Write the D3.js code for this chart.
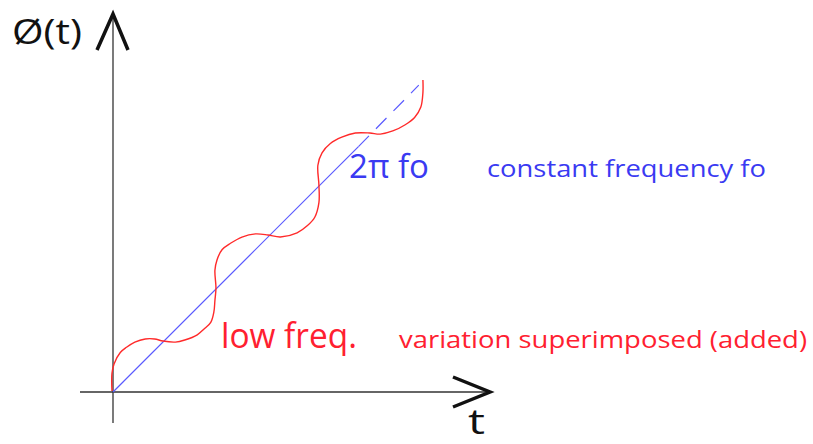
<!DOCTYPE html>
<html>
<head>
<meta charset="utf-8">
<script src="https://cdn.jsdelivr.net/npm/d3@7"></script>
<style>
	html, body { margin: 0; padding: 0; background: #fff; }
	svg { display: block; }
	text { font-family: 'Open Sans', 'Noto Sans', sans-serif; }
</style>
</head>
<body>
<svg id="chart" width="813" height="444"></svg>
<script>
'use strict'

// phase line 2*pi*fo*t, solid part then dashed continuation
const bluePhaseSolid = [[0, 0], [2.36, 2.36]]
const bluePhaseDashed = [[2.36, 2.36], [2.94, 2.95]]

// red phase with low freq. variation as [t, phi]
const redPhase = [
	[-0.01, 0.01], [-0.01, 0.18], [0.01, 0.27], [0.07, 0.38], [0.13, 0.43],
	[0.21, 0.48], [0.31, 0.51], [0.40, 0.51], [0.48, 0.49], [0.60, 0.48],
	[0.69, 0.50], [0.81, 0.55], [0.88, 0.61], [0.94, 0.67], [0.97, 0.77],
	[0.98, 0.88], [0.99, 1.00], [0.98, 1.17], [1.00, 1.27], [1.05, 1.37],
	[1.13, 1.43], [1.24, 1.49], [1.37, 1.52], [1.49, 1.51], [1.61, 1.49],
	[1.77, 1.53], [1.87, 1.60], [1.94, 1.68], [1.98, 1.82], [1.98, 1.99],
	[1.97, 2.18], [2.01, 2.30], [2.09, 2.39], [2.20, 2.45], [2.33, 2.49],
	[2.47, 2.49], [2.57, 2.48], [2.69, 2.51], [2.81, 2.57], [2.90, 2.64],
	[2.96, 2.74], [2.98, 2.88], [2.98, 3.00]
]

const axisLabels = ['Ø(t)', 't']
const blueLabels = ['2π fo', 'constant frequency fo']
const redLabels = ['low freq.', 'variation superimposed (added)']

const svg = d3.select('#chart')

let x = d3.scaleLinear().domain([0, 3]).range([113, 425])
let y = d3.scaleLinear().domain([0, 3]).range([392, 80])

let line = d3.line()
	.x(function(d) { return x(d[0]) })
	.y(function(d) { return y(d[1]) })

// axes, drawn as plain strokes with open arrow heads
let axes = svg.append('g').attr('class', 'axes')
axes.append('line')
	.attr('x1', x(0)).attr('x2', x(0))
	.attr('y1', 14).attr('y2', 423)
	.attr('stroke', '#333').attr('stroke-width', 1.3)
axes.append('line')
	.attr('x1', 80).attr('x2', 489)
	.attr('y1', y(0)).attr('y2', y(0))
	.attr('stroke', '#333').attr('stroke-width', 1.3)
axes.append('path')
	.attr('d', 'M97,50L' + x(0) + ',14L128,50')
	.attr('fill', 'none').attr('stroke', '#111').attr('stroke-width', 3.5)
axes.append('path')
	.attr('d', 'M453,377L490,' + y(0) + 'L453,407')
	.attr('fill', 'none').attr('stroke', '#111').attr('stroke-width', 3.5)

svg.append('path')
	.datum(bluePhaseSolid)
	.attr('d', line)
	.attr('fill', 'none')
	.attr('stroke', '#5a5aff')
	.attr('stroke-width', 1.2)

svg.append('path')
	.datum(bluePhaseDashed)
	.attr('d', line)
	.attr('fill', 'none')
	.attr('stroke', '#5a5aff')
	.attr('stroke-width', 1.2)
	.attr('stroke-dasharray', '15,10')

svg.append('path')
	.datum(redPhase)
	.attr('d', line.curve(d3.curveCatmullRom.alpha(0.5)))
	.attr('fill', 'none')
	.attr('stroke', '#ff2a2a')
	.attr('stroke-width', 1.4)

function label(txt, px, py, size, colour, len) {
	svg.append('text')
		.attr('x', px)
		.attr('y', py)
		.attr('font-size', size)
		.attr('fill', colour)
		.attr('textLength', len)
		.attr('lengthAdjust', 'spacingAndGlyphs')
		.text(txt)
}

label(axisLabels[0], 12, 44, 34, '#111', 70)
label(axisLabels[1], 468, 434, 34, '#111', 17)
label(blueLabels[0], 349, 178, 33, '#3a3af2', 80)
label(blueLabels[1], 487, 177, 23, '#3a3af2', 279)
label(redLabels[0], 221, 348, 34, '#ff2030', 136)
label(redLabels[1], 399, 348, 23, '#ff2030', 408)
</script>
</body>
</html>
